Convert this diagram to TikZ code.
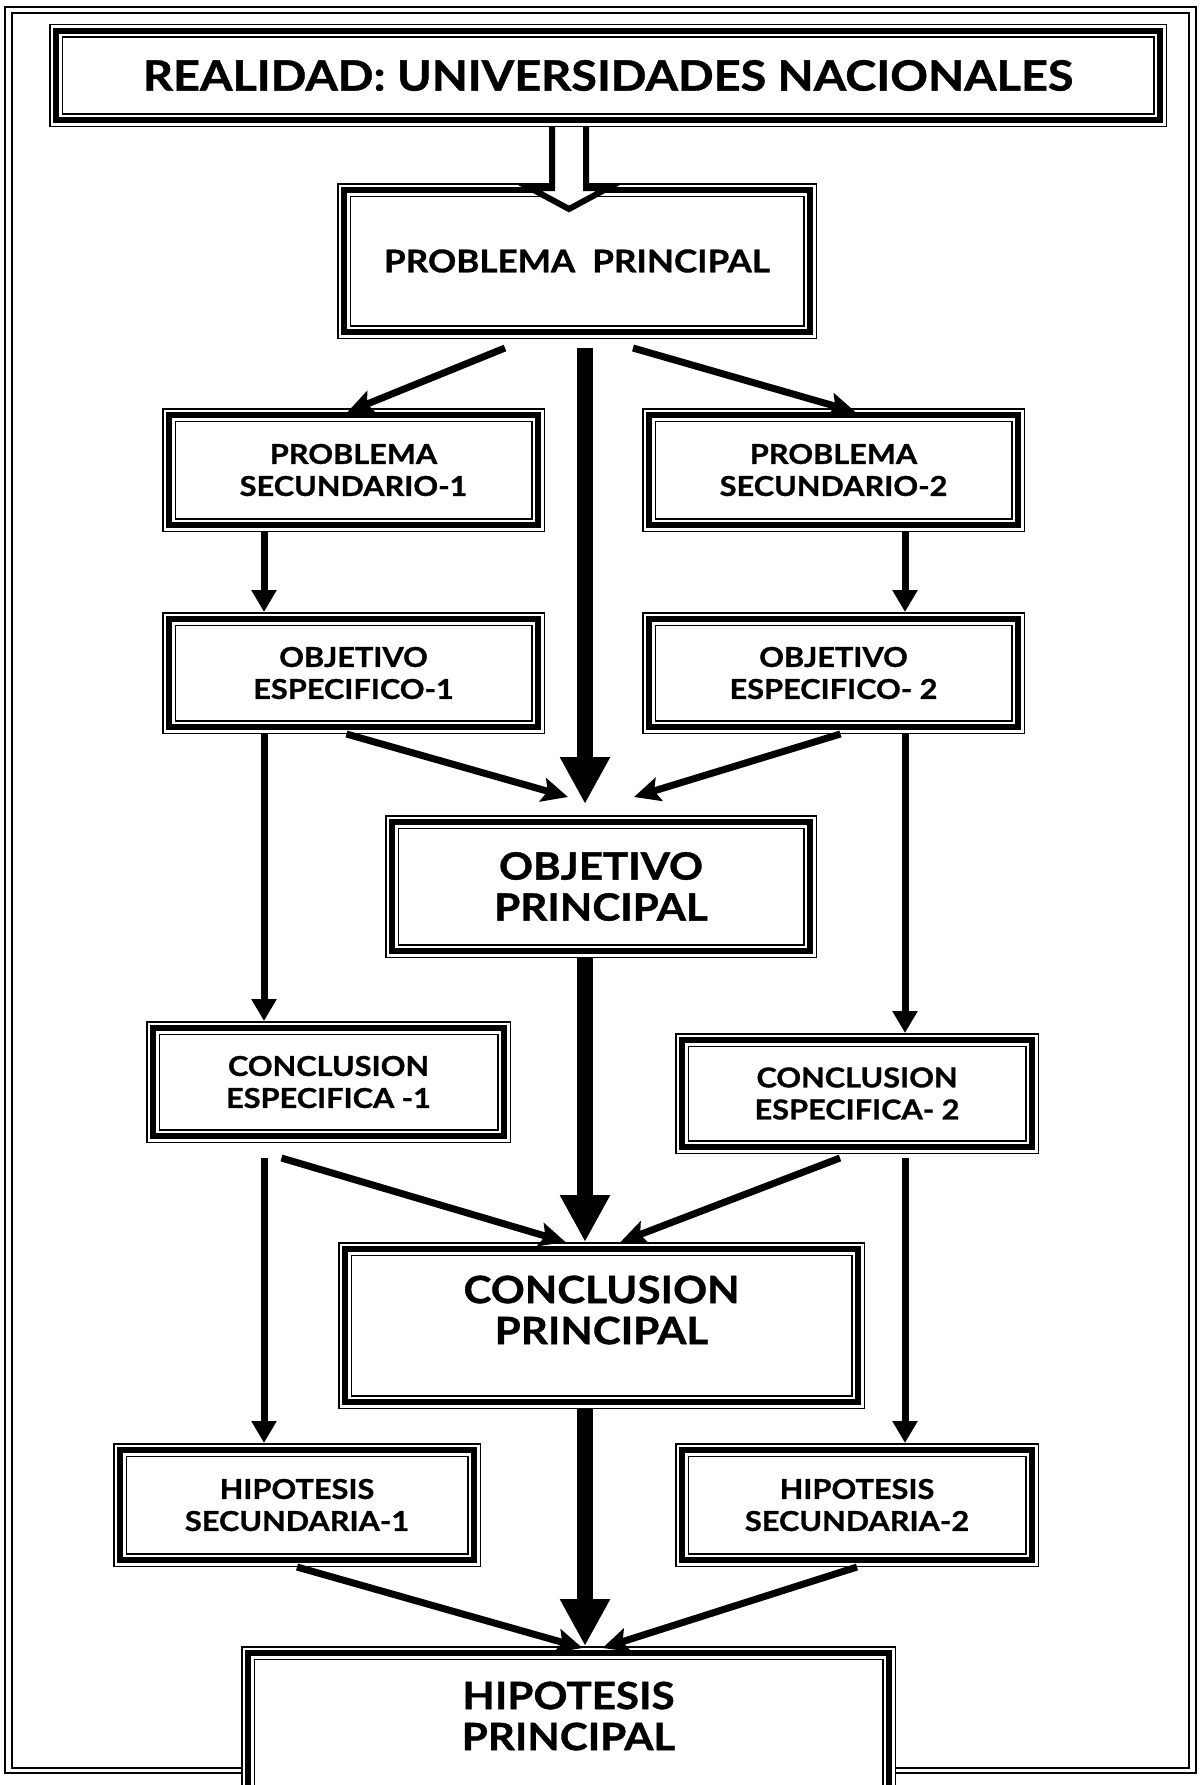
\documentclass[tikz,border=0pt]{standalone}
\usepackage{fontspec}
\setmainfont{Lato}[FakeStretch=1.12, BoldFeatures={FakeBold=1}]
\usetikzlibrary{arrows.meta}
\usetikzlibrary{calc}
\tikzset{
  box_n/.style = {rectangle, align=center, inner sep=0pt, outer sep=7pt,
    preaction={draw, fill=white, line width=14pt},
    preaction={draw, white, line width=11pt},
    draw, line width=6pt},% triple line frame
  small_f/.style = {font=\bfseries\fontsize{27.4}{32}\selectfont},
  mid_f/.style = {font=\bfseries\fontsize{31.3}{36}\selectfont},
  big_f/.style = {font=\bfseries\fontsize{37.6}{41}\selectfont},
  title_f/.style = {font=\bfseries\fontsize{41.8}{44}\selectfont},
  small_n/.style = {box_n, small_f, minimum width=369, minimum height=110},
  flow_e/.style = {line width=7pt, -{Triangle[length=22pt,width=24pt]}},
  slant_e/.style = {line width=7pt, -{Stealth[length=26pt,width=24pt,inset=5pt]}},
  main_e/.style = {line width=16pt, -{Triangle[length=47pt,width=47pt]}},
  hollow_e/.style = {line width=6pt, fill=white},
}
\begin{document}
\begin{tikzpicture}[x=1pt, y=-1pt]
\useasboundingbox (0,0) rectangle (1200,1785);
\clip (0,0) rectangle (1200,1785);
% page frame
\draw[line width=1.5pt] (5,7) rectangle (1196,1773);
\draw[line width=2.5pt] (12,13) rectangle (1189,1768);

\coordinate (colL) at (264,0);
\coordinate (colM) at (585,0);
\coordinate (colR) at (905,0);

\node[box_n, title_f, minimum width=1104, minimum height=89] (real) at (608,75.5)
  {REALIDAD: UNIVERSIDADES NACIONALES};
\node[box_n, mid_f, minimum width=466, minimum height=142] (pp) at (577,261)
  {PROBLEMA~~PRINCIPAL};
\node[small_n] (ps1) at (353.5,470) {PROBLEMA\\SECUNDARIO-1};
\node[small_n] (ps2) at (833.5,470) {PROBLEMA\\SECUNDARIO-2};
\node[small_n, minimum height=108] (oe1) at (353.5,673) {OBJETIVO\\ESPECIFICO-1};
\node[small_n, minimum height=108] (oe2) at (833.5,673) {OBJETIVO\\ESPECIFICO- 2};
\node[box_n, big_f, minimum width=418, minimum height=129] (op) at (601,886.5)
  {OBJETIVO\\PRINCIPAL};
\node[small_n, minimum width=351, minimum height=108] (ce1) at (328.5,1082)
  {CONCLUSION\\ESPECIFICA -1};
\node[small_n, minimum width=350, minimum height=107] (ce2) at (857,1093.5)
  {CONCLUSION\\ESPECIFICA- 2};
\node[box_n, minimum width=513, minimum height=153,
  label={[big_f, align=center, yshift=15.5pt]center:CONCLUSION\\PRINCIPAL}]
  (cp) at (601.5,1325.5) {};
\node[small_n, minimum width=354] (hs1) at (297,1505) {HIPOTESIS\\SECUNDARIA-1};
\node[small_n, minimum width=350] (hs2) at (857,1505) {HIPOTESIS\\SECUNDARIA-2};
\node[box_n, minimum width=641, minimum height=187,
  label={[big_f, align=center, yshift=30.5pt]center:HIPOTESIS\\PRINCIPAL}]
  (hp) at (568.5,1746.5) {};

% hollow arrow
\draw[hollow_e] ($(real.south)+(-56,0)$) -- ++(0,61) -- ++(-22,0) -- ++(39,21)
  -- ++(39,-21) -- ++(-22,0) -- ($(real.south)+(-22,0)$);

% main line
\draw[main_e] ($(pp.south -| colM)+(0,9)$) -- ($(op.north -| colM)+(0,-11)$);
\draw[main_e] (op.south -| colM) -- (cp.north -| colM);
\draw[main_e] (cp.south -| colM) -- (hp.north -| colM);

% side columns
\draw[flow_e] (ps1.south -| colL) -- (oe1.north -| colL);
\draw[flow_e] (ps2.south -| colR) -- (oe2.north -| colR);
\draw[flow_e] (oe1.south -| colL) -- (ce1.north -| colL);
\draw[flow_e] (oe2.south -| colR) -- (ce2.north -| colR);
\draw[flow_e] ($(ce1.south -| colL)+(0,15)$) -- (hs1.north -| colL);
\draw[flow_e] ($(ce2.south -| colR)+(0,4)$) -- (hs2.north -| colR);

% slanted
\draw[slant_e] ($(pp.south)+(-72,9)$) -- ($(ps1.north)+(-6,4)$);
\draw[slant_e] ($(pp.south)+(56,9)$) -- ($(ps2.north)+(22,4)$);
\draw[slant_e] ($(oe1.south)+(-7,0)$) -- ($(op.north)+(-33,-18)$);
\draw[slant_e] ($(oe2.south)+(7,0)$) -- ($(op.north)+(33,-18)$);
\draw[slant_e] ($(ce1.south)+(-47,15)$) -- ($(cp.north)+(-36,0)$);
\draw[slant_e] ($(ce2.south)+(-17,4)$) -- ($(cp.north)+(19,0)$);
\draw[slant_e] (hs1.south) -- ($(hp.north)+(14,2)$);
\draw[slant_e] (hs2.south) -- ($(hp.north)+(34,2)$);
\end{tikzpicture}
\end{document}
